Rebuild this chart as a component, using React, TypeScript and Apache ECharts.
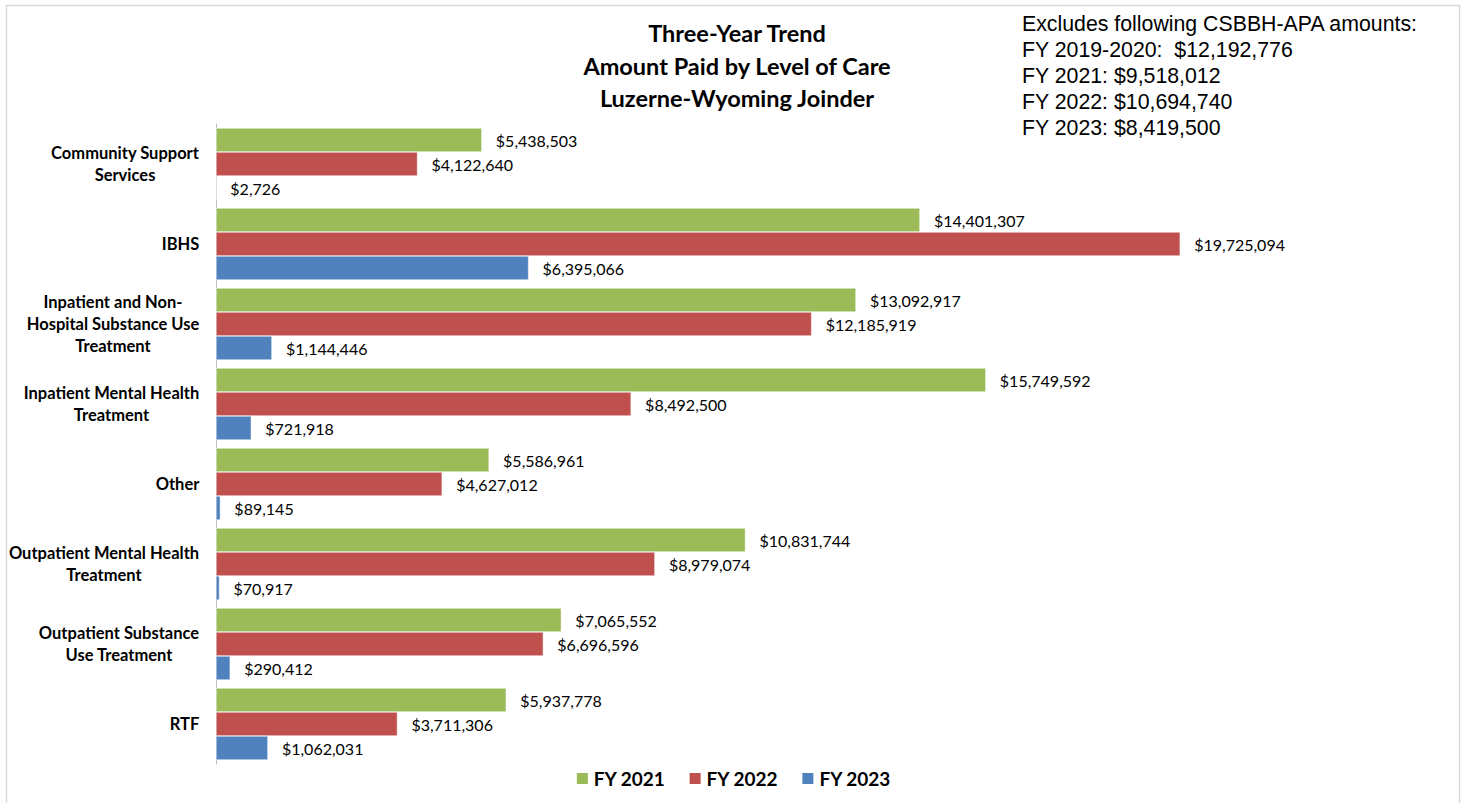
import React, { useEffect, useRef } from "react";
import * as echarts from "echarts";

const categories = [
  "Community Support\nServices",
  "IBHS",
  "Inpatient and Non-\nHospital Substance Use\nTreatment",
  "Inpatient Mental Health\nTreatment",
  "Other",
  "Outpatient Mental Health\nTreatment",
  "Outpatient Substance\nUse Treatment",
  "RTF",
];
const seriesNames = ["FY 2021", "FY 2022", "FY 2023"];
const fy2021 = [5438503, 14401307, 13092917, 15749592, 5586961, 10831744, 7065552, 5937778];
const fy2022 = [4122640, 19725094, 12185919, 8492500, 4627012, 8979074, 6696596, 3711306];
const fy2023 = [2726, 6395066, 1144446, 721918, 89145, 70917, 290412, 1062031];
const colors = ["#9BBB59", "#C0504D", "#4F81BD"];
const titleLines = ["Three-Year Trend", "Amount Paid by Level of Care", "Luzerne-Wyoming Joinder"];
const noteLines = [
  "Excludes following CSBBH-APA amounts:",
  "FY 2019-2020:  $12,192,776",
  "FY 2021: $9,518,012",
  "FY 2022: $10,694,740",
  "FY 2023: $8,419,500",
];

const CAT_SIZE = 16.5;
const CAT_FONT = `bold ${CAT_SIZE}px Lato`;

function measure(text: string, font: string): number {
  const c = document.createElement("canvas");
  const ctx = c.getContext("2d");
  if (!ctx) return text.length * 9;
  ctx.font = font;
  return ctx.measureText(text).width;
}

export default function App() {
  const ref = useRef<HTMLDivElement>(null);
  useEffect(() => {
    if (!ref.current) return;
    const chart = echarts.init(ref.current, undefined, { renderer: "svg" });
    const rich: Record<string, any> = {};
    categories.forEach((c, i) => {
      const w = Math.ceil(Math.max(...c.split("\n").map((l) => measure(l, CAT_FONT)))) + 1;
      rich["c" + i] = {
        width: w,
        align: "center",
        fontFamily: "Lato",
        fontWeight: "bold",
        fontSize: CAT_SIZE,
        lineHeight: 22,
        color: "#000",
      };
    });
    const data = [fy2021, fy2022, fy2023];
    chart.setOption({
      animation: false,
      backgroundColor: "#fff",
      title: {
        text: titleLines.join("\n"),
        left: 732,
        textAlign: "center",
        top: 12,
        textStyle: {
          fontFamily: "Lato",
          fontWeight: "bold",
          fontSize: 23.5,
          lineHeight: 32.5,
          color: "#000",
        },
      },
      graphic: [
        {
          type: "rect",
          shape: { x: 6.5, y: 5.5, width: 1453, height: 810 },
          style: { fill: "none", stroke: "#d9d9d9", lineWidth: 1.5 },
          silent: true,
        },
        {
          type: "text",
          left: 1022,
          top: 11,
          style: {
            text: noteLines.join("\n"),
            fontFamily: "Liberation Sans",
            fontSize: 21.3,
            lineHeight: 26,
            fill: "#000",
          },
        },
      ],
      legend: {
        data: seriesNames,
        left: "center",
        top: 764,
        icon: "rect",
        itemWidth: 13,
        itemHeight: 13,
        itemGap: 22,
        textStyle: { fontFamily: "Lato", fontWeight: "bold", fontSize: 19, color: "#000" },
      },
      grid: { left: 216, right: 28, top: 124, bottom: 39, containLabel: false },
      xAxis: {
        type: "value",
        min: 0,
        max: 25000000,
        show: false,
      },
      yAxis: {
        type: "category",
        data: categories,
        inverse: true,
        axisLine: { show: true, lineStyle: { color: "#bfbfbf", width: 1 } },
        axisTick: { show: false },
        axisLabel: {
          margin: 16,
          formatter: (value: string, idx: number) =>
            value
              .split("\n")
              .map((l) => `{c${idx}|${l}}`)
              .join("\n"),
          rich,
        },
      },
      series: seriesNames.map((name, si) => ({
        name,
        type: "bar",
        data: data[si],
        barGap: "0%",
        barCategoryGap: "10%",
        itemStyle: { color: colors[si], borderColor: "#fff", borderWidth: 0.5 },
        label: {
          show: true,
          position: "right",
          distance: 14,
          fontFamily: "Lato",
          fontSize: 16,
          color: "#000",
          formatter: (p: any) => "$" + Number(p.value).toLocaleString("en-US"),
        },
      })),
    });
    return () => chart.dispose();
  }, []);
  return (
    <div
      ref={ref}
      style={{ position: "fixed", left: 0, top: 0, width: 1466, height: 803 }}
    />
  );
}
